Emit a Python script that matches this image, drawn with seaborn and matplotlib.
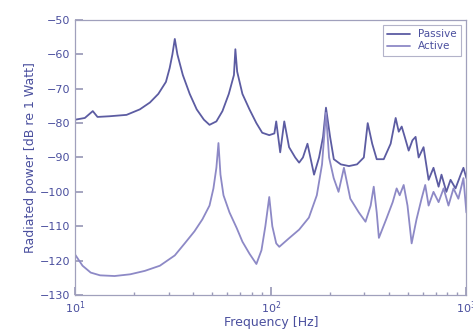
import numpy as np
import pandas as pd
import seaborn as sns
import matplotlib.pyplot as plt
from matplotlib.ticker import LogLocator, LogFormatterMathtext, MultipleLocator

# values (frequency in Hz, power in dB re 1 W)
passive_f = [10.0, 11.2, 12.3, 13.0, 15.0, 18.3, 21.4, 24.1, 26.6, 29.1, 30.4, 31.4, 32.3,
             33.3, 35.5, 38.5, 41.8, 45.5, 48.6, 52.7, 56.6, 61.0, 64.8, 65.9, 67.3, 71.6,
             77.8, 84.4, 90.4, 98.2, 104.3, 106.6, 111.7, 117.2, 124.0, 133.3, 139.6,
             146.0, 154.0, 166.4, 176.5, 185.0, 191.5, 201.0, 210.0, 228.0, 251.0, 276.0,
             299.0, 313.0, 330.0, 348.0, 378.0, 410.0, 435.0, 451.0, 467.0, 484.0, 507.0,
             530.0, 550.0, 570.0, 604.0, 641.0, 679.0, 721.0, 746.0, 790.0, 830.0, 880.0,
             935.0, 966.0, 1000.0]
passive_db = [-79.0, -78.5, -76.5, -78.2, -78.0, -77.6, -76.0, -74.0, -71.5, -68.0, -64.0,
              -60.0, -55.5, -60.0, -66.0, -71.5, -76.0, -79.0, -80.5, -79.5, -76.5, -71.5,
              -66.0, -58.5, -65.0, -71.5, -76.0, -80.0, -82.8, -83.5, -83.0, -79.5, -88.5,
              -79.5, -87.0, -90.0, -91.5, -90.0, -86.0, -95.0, -90.0, -84.0, -75.5, -84.0,
              -90.5, -92.0, -92.5, -92.0, -90.0, -80.0, -86.0, -90.5, -90.5, -86.0, -78.5,
              -82.5, -81.0, -84.0, -88.0, -85.0, -84.0, -90.0, -87.0, -96.5, -93.0, -98.5,
              -95.0, -100.0, -96.5, -99.0, -95.0, -93.0, -96.0]

active_f = [10.0, 10.9, 12.0, 13.4, 15.9, 19.1, 22.7, 27.1, 32.3, 36.3, 40.7, 44.7, 48.6,
            50.9, 52.7, 54.0, 55.3, 57.3, 61.5, 66.9, 71.6, 77.8, 84.4, 89.6, 93.8, 98.2,
            101.8, 106.6, 110.5, 124.0, 139.6, 156.6, 171.9, 182.8, 191.5, 198.6, 209.7,
            222.0, 236.6, 255.0, 282.0, 305.0, 324.0, 336.0, 348.0, 357.0, 389.0, 420.0,
            440.0, 456.0, 478.0, 500.0, 525.0, 556.0, 590.0, 616.0, 641.0, 679.0, 721.0,
            765.0, 810.0, 859.0, 910.0, 966.0, 1000.0]
active_db = [-118.3, -121.5, -123.5, -124.3, -124.5, -124.0, -123.0, -121.5, -118.5, -115.0,
             -111.5, -108.0, -104.0, -99.0, -93.0, -85.8, -95.0, -101.0, -106.0, -110.5,
             -114.5, -118.0, -121.0, -117.0, -110.0, -101.5, -110.0, -115.0, -116.0, -113.5,
             -111.0, -107.5, -101.0, -92.0, -77.0, -90.0, -96.0, -100.0, -93.0, -102.0,
             -106.0, -108.7, -104.0, -98.5, -106.0, -113.4, -108.0, -103.0, -99.0, -101.0,
             -98.0, -104.0, -115.0, -108.0, -102.0, -98.0, -104.0, -100.0, -103.0, -99.0,
             -104.0, -99.0, -102.0, -96.0, -106.0]

df = pd.concat([
    pd.DataFrame({'freq': passive_f, 'power': passive_db, 'case': 'Passive'}),
    pd.DataFrame({'freq': active_f, 'power': active_db, 'case': 'Active'}),
])

sns.set_theme(style='ticks')
plt.rcParams['font.family'] = ['DejaVu Sans']
txt = '#4a4f9e'

fig = plt.figure(figsize=(4.73, 3.34), dpi=100)
ax = fig.add_axes([0.159, 0.117, 0.827, 0.823])

sns.lineplot(data=df, x='freq', y='power', hue='case', sort=False,
             palette={'Passive': '#5c5ca2', 'Active': '#8d89c6'},
             linewidth=1.3, ax=ax)

ax.set_xscale('log')
ax.set_xlim(10, 1000)
ax.set_ylim(-130, -50)
ax.yaxis.set_major_locator(MultipleLocator(10))
ax.xaxis.set_major_locator(LogLocator(base=10))
ax.xaxis.set_major_formatter(LogFormatterMathtext())
ax.xaxis.set_minor_locator(LogLocator(base=10, subs=np.arange(2, 10)))
ax.tick_params(which='both', direction='in', colors='#9a9ab8', labelcolor=txt, labelsize=8)
ax.tick_params(which='minor', length=2)
for s in ax.spines.values():
    s.set_color('#a0a0bc')
    s.set_linewidth(0.9)

ax.set_xlabel('Frequency [Hz]', color=txt, fontsize=9, labelpad=0)
ax.set_ylabel('Radiated power [dB re 1 Watt]', color=txt, fontsize=9, labelpad=2)

leg = ax.legend(loc='upper right', fontsize=7.5, handlelength=2.2, frameon=True,
                fancybox=False, borderpad=0.4, labelspacing=0.2)
leg.get_frame().set_edgecolor('#a0a0bc')
leg.get_frame().set_linewidth(0.8)
for t in leg.get_texts():
    t.set_color(txt)

fig.savefig('out.png', dpi=100)
